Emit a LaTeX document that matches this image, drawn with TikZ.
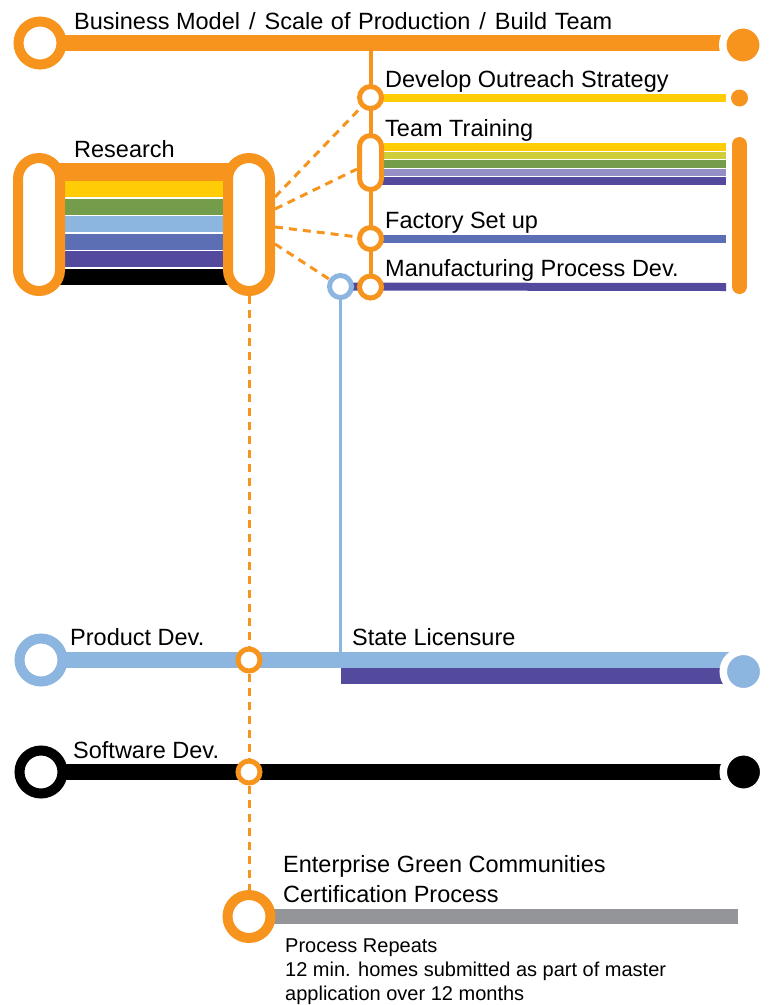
\documentclass[tikz,border=0pt]{standalone}
\usepackage{fontspec}
\setmainfont{Liberation Sans}
\usetikzlibrary{calc}
\definecolor{orng}{HTML}{F7941D}
\definecolor{yel}{HTML}{FFCC05}
\definecolor{ygr}{HTML}{CFCD3A}
\definecolor{grn}{HTML}{739C4B}
\definecolor{lblue}{HTML}{8CB6E0}
\definecolor{blu}{HTML}{5C6FB4}
\definecolor{pur}{HTML}{534A9D}
\definecolor{lav}{HTML}{9490C5}
\definecolor{gry}{HTML}{939598}
\pgfdeclarelayer{bg}
\pgfsetlayers{bg,main}
\begin{document}
\begin{tikzpicture}[x=1pt,y=-1pt,
  bigring/.style={circle,draw=#1,fill=white,line width=10pt,minimum size=43pt,inner sep=0pt},
  ring/.style={circle,draw=#1,fill=white,line width=5pt,minimum size=22pt,inner sep=0pt},
  enddot/.style={circle,fill=#1,draw=white,line width=7.5pt,minimum size=40.5pt,inner sep=0pt},
  pill/.style={rectangle,rounded corners=#1,draw=orng,fill=white,inner sep=0pt},
  lab/.style={anchor=base west,inner sep=0pt,font=\fontsize{23.5}{28}\selectfont},
  note/.style={anchor=base west,inner sep=0pt,font=\fontsize{20}{24}\selectfont},
  track/.style={line width=16pt},
  rail/.style={line width=8pt},
  link/.style={orng,line width=3pt,dash pattern=on 8pt off 6pt},
]
\useasboundingbox (0,0) rectangle (770,1005);

% ---- nodes ----
\node[bigring=orng] (bm) at (40,43) {};
\node[enddot=orng] (bmE) at (743,45) {};
\node[ring=orng] (dev) at (370.5,97.5) {};
\node[circle,fill=orng,minimum size=17pt,inner sep=0pt] (devE) at (739.5,98) {};
\coordinate (devT) at (725.5,97.5);
\node[pill=11pt,line width=5pt,minimum width=22pt,minimum height=54pt] (team) at (370.5,162.5) {};
\node[ring=orng] (fac) at (370.5,238.5) {};
\coordinate (facT) at (726,238.5);
\node[ring=orng] (mfg) at (370.5,287) {};
\coordinate (mfgT) at (726,287);
\node[ring=lblue] (lb) at (340.5,286.5) {};
\node[pill=21pt,line width=10pt,minimum width=42pt,minimum height=133pt] (resL) at (39,224.5) {};
\node[pill=21pt,line width=10pt,minimum width=42pt,minimum height=133pt] (resR) at (249,224.5) {};
\node[bigring=lblue] (prod) at (41,660) {};
\node[enddot=lblue] (prodE) at (743.5,671.5) {};
\node[ring=orng] (x1) at (249,660) {};
\node[bigring=black] (soft) at (41,772) {};
\node[enddot=black] (softE) at (743.5,772) {};
\node[ring=orng] (x2) at (249,772) {};
\node[bigring=orng] (ent) at (249,916.5) {};
\coordinate (entE) at (738,916.5);

% ---- lines and bands ----
\begin{pgfonlayer}{bg}
\draw[orng,track] (bm.center) -- (bmE.center |- bm.center);
\draw[orng,line width=4pt] (bm.center -| dev.center) -- (mfg.center);
\draw[yel,rail] (dev.center) -- (devT);
\fill[yel] (370,143) rectangle (726,151);
\fill[ygr] (370,151.8) rectangle (726,159.2);
\fill[grn] (370,160) rectangle (726,167.5);
\fill[lav] (370,168.5) rectangle (726,176);
\fill[pur] (370,177) rectangle (726,185);
\draw[blu,rail] (fac.center) -- (facT);
\draw[pur,rail] (lb.center) -- (mfgT);
\draw[orng,line width=15pt,line cap=round] (739.5,144.5) -- (739.5,286.5);
\draw[lblue,line width=3pt] (lb.center) -- (lb.center |- prod.center);
\fill[orng] (39,163) rectangle (249,180.5);
\fill[yel] (39,181) rectangle (249,197);
\fill[grn] (39,199) rectangle (249,214.5);
\fill[lblue] (39,216) rectangle (249,232);
\fill[blu] (39,234) rectangle (249,249.5);
\fill[pur] (39,251) rectangle (249,267);
\fill[black] (39,269) rectangle (249,285);
\draw[link] ($(resR.east)+(0,-27.5)$) -- (dev);
\draw[link] ($(resR.east)+(0,-15.5)$) -- (team);
\draw[link] ($(resR.east)+(0,2.5)$) -- (fac);
\draw[link] ($(resR.east)+(0,19.5)$) -- (lb);
\draw[link] (resR.south) -- (ent.north);
\draw[lblue,track] (prod.center) -- (prodE.center |- prod.center);
\fill[pur] (341,668) rectangle (743,683.5);
\draw[black,track] (soft.center) -- (softE.center);
\draw[gry,line width=15pt] (ent.center) -- (entE);
\end{pgfonlayer}

% ---- labels ----
\node[lab] at (74,29) {Business Model\hspace{2.5pt} /\hspace{2.5pt} Scale\hspace{1pt} of\hspace{1pt} Production\hspace{2.5pt} /\hspace{2.5pt} Build\hspace{1pt} Team};
\node[lab] at (385,87) {Develop Outreach Strategy};
\node[lab] at (385,136) {Team Training};
\node[lab] at (74,157) {Research};
\node[lab] at (385,228) {Factory Set up};
\node[lab] at (385,276) {Manufacturing Process Dev.};
\node[lab] at (70,645) {Product Dev.};
\node[lab] at (352,645) {State Licensure};
\node[lab] at (73,758) {Software Dev.};
\node[lab] at (283,872) {Enterprise Green Communities};
\node[lab] at (283,902) {Certification Process};
\node[note] at (285,952) {Process Repeats};
\node[note] at (285,976) {12 min. homes submitted as part of master};
\node[note] at (285,1000) {application over 12 months};
\end{tikzpicture}
\end{document}
